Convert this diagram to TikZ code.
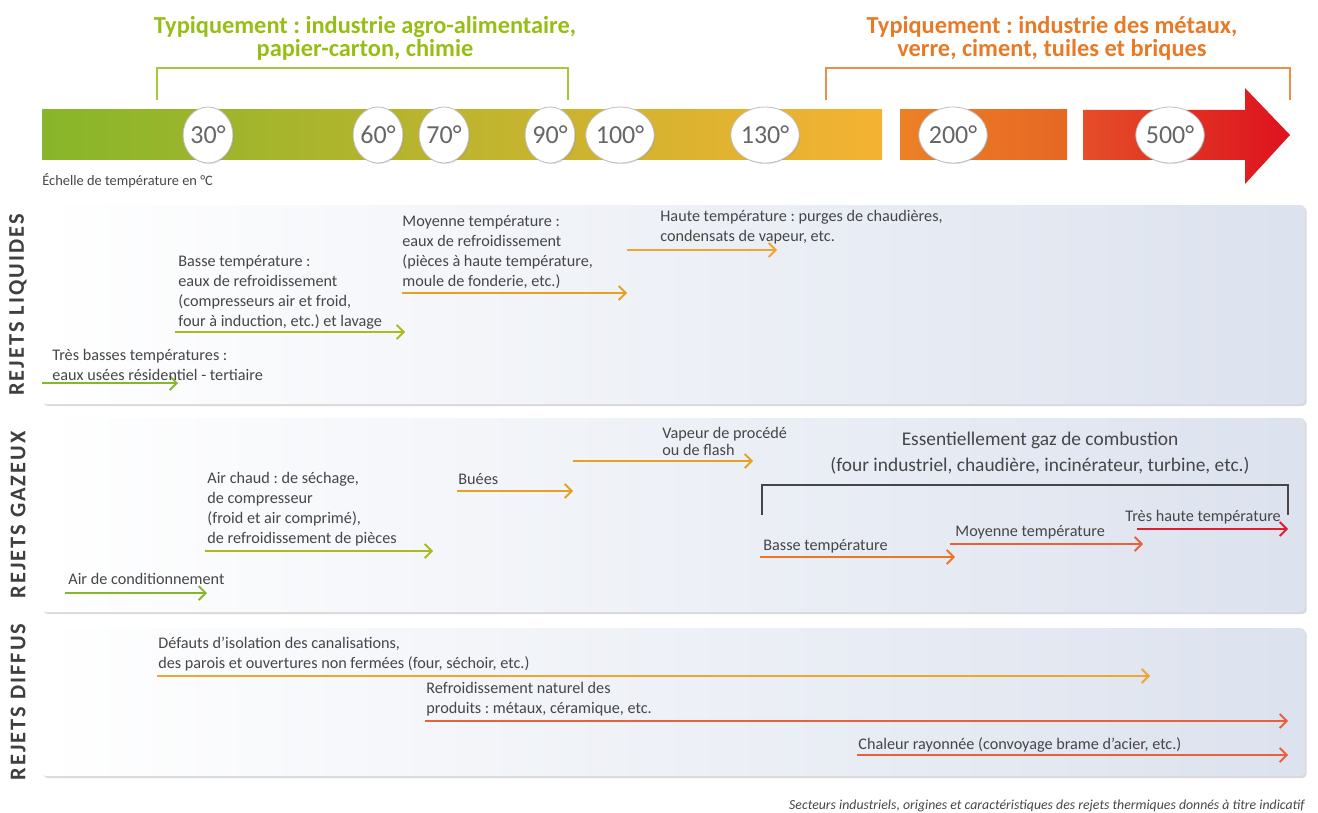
\documentclass[tikz,border=0pt]{standalone}
\usepackage{fontspec}
\setmainfont{Carlito}
\usepackage{tikz}
\usetikzlibrary{positioning,arrows.meta,shapes.geometric,shadows}
\frenchspacing
\definecolor{leafgreen}{RGB}{150,190,20}
\definecolor{fireorange}{RGB}{232,122,38}
\definecolor{inkgray}{RGB}{70,70,72}
\definecolor{panelblue}{RGB}{220,226,238}
\definecolor{tgreen}{RGB}{135,182,42}
\definecolor{tolive}{RGB}{170,186,32}
\definecolor{tamber}{RGB}{228,162,36}
\definecolor{tgold}{RGB}{240,165,48}
\definecolor{torange}{RGB}{236,118,38}
\definecolor{tcoral}{RGB}{234,96,60}
\definecolor{tred}{RGB}{222,30,48}

\begin{document}
\begin{tikzpicture}[
  x=0.5pt,y=-0.5pt,
  txt/.style={anchor=base west,align=left,inner sep=0pt,text=inkgray,font=\fontsize{8.1}{10}\selectfont},
  head/.style={align=center,inner sep=0pt,font=\fontsize{12.2}{11.5}\selectfont\bfseries},
  arr/.style={-{Straight Barb[length=3.5pt,width=7pt]},line width=0.9pt},
  panel/.style={rounded corners=2pt,left color=white,right color=panelblue,draw=none,
    drop shadow={shadow xshift=0.8pt,shadow yshift=-1pt,opacity=0.3}},
  degree/.style={ellipse,draw=gray!50,fill=white,minimum width=23pt,minimum height=28pt,inner sep=0pt,
    text=gray!80!black,font=\fontsize{13}{13}\selectfont,
    drop shadow={shadow xshift=0.5pt,shadow yshift=-0.5pt,opacity=0.25}},
  rejet/.style={rotate=90,text=inkgray!90!black,font=\fontsize{11.2}{11}\selectfont\bfseries\addfontfeature{LetterSpace=9}},
]
  \useasboundingbox (0,0) rectangle (1318,813);

  % secteurs
  \node[head,text=leafgreen] (agro) at (365,38) {Typiquement : industrie agro-alimentaire,\\papier-carton, chimie};
  \node[head,text=fireorange] (metaux) at (1052,38) {Typiquement : industrie des métaux,\\verre, ciment, tuiles et briques};
  \draw[leafgreen!85,line width=0.8pt] (157,100) -- (157,68) -- (568,68) -- (568,100);
  \draw[fireorange!85,line width=0.8pt] (826,100) -- (826,68) -- (1290,68) -- (1290,100);

  % echelle
  \shade[left color=tgreen,middle color={rgb,255:red,200;green,180;blue,35},right color={rgb,255:red,245;green,178;blue,50}]
    (42,110) rectangle (882,160);
  \shade[left color={rgb,255:red,236;green,128;blue,40},right color={rgb,255:red,230;green,104;blue,35}]
    (900,110) rectangle (1067,160);
  \shade[left color={rgb,255:red,228;green,78;blue,40},right color={rgb,255:red,222;green,18;blue,30}]
    (1083,110) -- (1245,110) -- (1245,88) -- (1290,135) -- (1245,184) -- (1245,160) -- (1083,160) -- cycle;
  \foreach \t/\x in {30/208,60/378,70/444,90/550,100/620,130/765,200/953,500/1170}
    \node[degree] (deg\t) at (\x,135) {\t°};
  \node[txt,font=\fontsize{7.2}{8}\selectfont] (echelle) at (42,185) {Échelle de température en °C};

  % panneaux
  \path[panel] (42,205) rectangle (1305,404);
  \path[panel] (42,418) rectangle (1305,612);
  \path[panel] (42,628) rectangle (1305,776);
  \node[rejet] (liquides) at (18,305) {REJETS LIQUIDES};
  \node[rejet] (gazeux) at (18,515) {REJETS GAZEUX};
  \node[rejet] (diffus) at (18,702) {REJETS DIFFUS};

  % fleches
  \foreach \n/\xa/\xb/\y/\c in {
      liqA/42/178/383/tgreen, liqB/175/405/332/tolive, liqC/402/627/293/tamber, liqD/627/777/250/tgold,
      gazA/65/207/593/tgreen, gazB/205/433/551/tolive, gazC/457/573/491/tamber, gazD/573/753/461/tamber,
      gazE/760/955/557/torange, gazF/950/1143/544/tcoral, gazG/1137/1288/529/tred,
      difA/157/1150/676/tgold, difB/425/1288/721/tcoral, difC/857/1288/755/tcoral}{
    \coordinate (\n a) at (\xa,\y);
    \coordinate (\n b) at (\xb,\y);
    \draw[arr,\c] (\n a) -- (\n b);
  }

  % rejets liquides
  \node[txt] (tresbasses) at (52,380) {Très basses températures :\\eaux usées résidentiel - tertiaire};
  \node[txt] (basse) at (178,326) {Basse température :\\eaux de refroidissement\\(compresseurs air et froid,\\four à induction, etc.) et lavage};
  \node[txt] (moyenne) at (402,286) {Moyenne température :\\eaux de refroidissement\\(pièces à haute température,\\moule de fonderie, etc.)};
  \node[txt] (haute) at (660,242) {Haute température : purges de chaudières,\\condensats de vapeur, etc.};

  % rejets gazeux
  \node[txt] (aircond) at (68,584) {Air de conditionnement};
  \node[txt] (airchaud) at (207,543) {Air chaud : de séchage,\\de compresseur\\(froid et air comprimé),\\de refroidissement de pièces};
  \node[txt] (buees) at (458,484) {Buées};
  \node[txt,font=\fontsize{8.1}{8.5}\selectfont] (vapeur) at (662,455) {Vapeur de procédé\\ou de flash};
  \node[txt,anchor=base,align=center,font=\fontsize{9.7}{13}\selectfont] (combustion) at (1040,471)
    {Essentiellement gaz de combustion\\(four industriel, chaudière, incinérateur, turbine, etc.)};
  \draw[inkgray,line width=1pt] (762,515) -- (762,485) -- (1288,485) -- (1288,515);
  \node[txt] (gbasse) at (763,550) {Basse température};
  \node[txt] (gmoyenne) at (955,536) {Moyenne température};
  \node[txt] (gtreshaute) at (1125,521) {Très haute température};

  % rejets diffus
  \node[txt] (defauts) at (158,668) {Défauts d’isolation des canalisations,\\des parois et ouvertures non fermées (four, séchoir, etc.)};
  \node[txt] (naturel) at (426,713) {Refroidissement naturel des\\produits : métaux, céramique, etc.};
  \node[txt] (rayonnee) at (858,749) {Chaleur rayonnée (convoyage brame d’acier, etc.)};

  \node[anchor=base east,inner sep=0pt,text=inkgray,font=\fontsize{6.9}{7}\selectfont\itshape] (legende) at (1305,809)
    {Secteurs industriels, origines et caractéristiques des rejets thermiques donnés à titre indicatif};
\end{tikzpicture}
\end{document}
